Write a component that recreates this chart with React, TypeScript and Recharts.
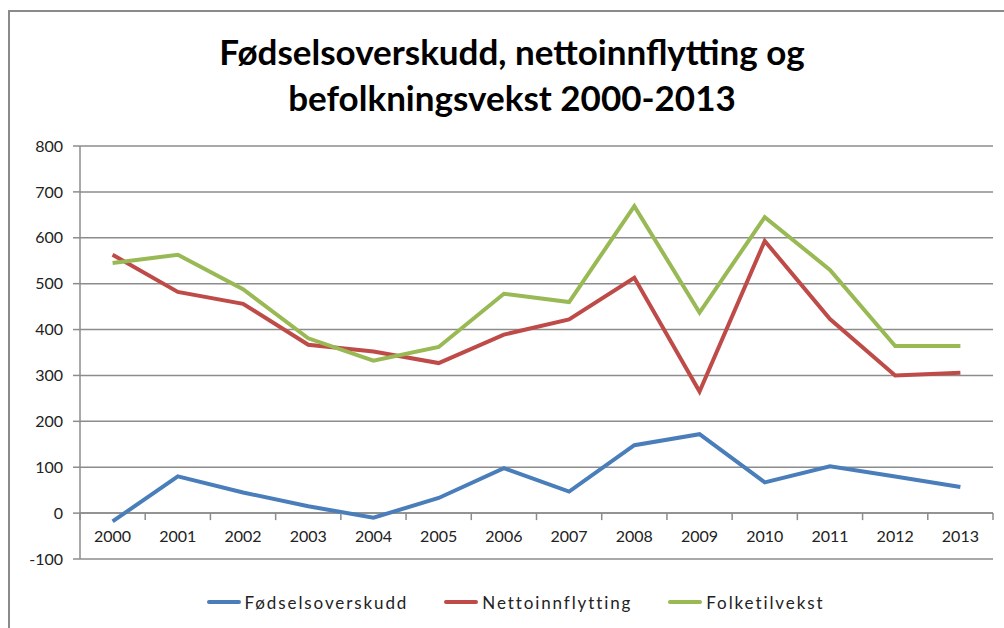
import React from 'react';
import { LineChart, Line, XAxis, YAxis, CartesianGrid, Legend, ReferenceLine } from 'recharts';

// År og verdier lest av figuren
const years = ['2000', '2001', '2002', '2003', '2004', '2005', '2006', '2007', '2008', '2009', '2010', '2011', '2012', '2013'];
const fodselsoverskudd = [-18, 80, 45, 15, -10, 33, 98, 47, 148, 172, 67, 102, 80, 57];
const nettoinnflytting = [563, 482, 456, 367, 352, 327, 389, 422, 513, 265, 593, 423, 300, 306];
const folketilvekst = [545, 563, 488, 381, 332, 362, 478, 460, 669, 437, 645, 530, 364, 364];
const yTicks = [-100, 0, 100, 200, 300, 400, 500, 600, 700, 800];

const data = years.map((year, i) => ({
  year,
  fodsel: fodselsoverskudd[i],
  netto: nettoinnflytting[i],
  folke: folketilvekst[i],
}));

const W = 1004;
const H = 628;
const PLOT_TOP = 146;
const PLOT_LEFT = 80;
const PLOT_RIGHT = 993;
const PLOT_BOTTOM = 559;
const PLOT_W = PLOT_RIGHT - PLOT_LEFT;
const PLOT_H = PLOT_BOTTOM - PLOT_TOP;
const ZERO_Y = PLOT_TOP + (PLOT_H * 800) / 900;
const BAND = PLOT_W / years.length;
const FONT = 'Lato, "Liberation Sans", sans-serif';
const GRID = '#8c8c8c';

const LEGEND_H = 20;
const X_AXIS_H = 33;
const MARGIN_BOTTOM = H - PLOT_BOTTOM - LEGEND_H - X_AXIS_H;

// x-akse som krysser ved 0: etiketter og skillestreker tegnes ved nullinjen
const YearTick = (props: any) => {
  const { x, payload, index } = props;
  return (
    <g>
      <line x1={x - BAND / 2} x2={x - BAND / 2} y1={ZERO_Y} y2={ZERO_Y + 7} stroke={GRID} strokeWidth={1.5} />
      {index === years.length - 1 && (
        <line x1={x + BAND / 2} x2={x + BAND / 2} y1={ZERO_Y} y2={ZERO_Y + 7} stroke={GRID} strokeWidth={1.5} />
      )}
      <text x={x} y={ZERO_Y + 29} textAnchor="middle" fontFamily={FONT} fontSize={16} fill="#222">
        {payload.value}
      </text>
    </g>
  );
};

const legendItems = [
  { label: 'Fødselsoverskudd', color: '#4a7ebb' },
  { label: 'Nettoinnflytting', color: '#be4b48' },
  { label: 'Folketilvekst', color: '#98b954' },
];

const ChartLegend = () => (
  <div style={{ display: 'flex', justifyContent: 'center', alignItems: 'center', height: LEGEND_H, fontFamily: FONT, fontSize: 17, letterSpacing: 1.9, color: '#222', paddingLeft: 74 }}>
    {legendItems.map((item) => (
      <div key={item.label} style={{ display: 'flex', alignItems: 'center', marginRight: 36 }}>
        <div style={{ width: 34, height: 4, background: item.color, borderRadius: 2, marginRight: 4 }} />
        <span>{item.label}</span>
      </div>
    ))}
  </div>
);

const App: React.FC = () => {
  return (
    <div style={{ position: 'absolute', left: 0, top: 0, width: W, height: H, background: '#fff', overflow: 'hidden' }}>
      <div style={{ position: 'absolute', left: 8, top: 10, width: W, height: H, borderTop: '2px solid #8a8a8a', borderLeft: '2px solid #8a8a8a' }} />
      <div style={{ position: 'absolute', left: 10, top: 28, width: W, textAlign: 'center', fontFamily: FONT, fontWeight: 700, fontSize: 35, lineHeight: '46px', color: '#000' }}>
        Fødselsoverskudd, nettoinnflytting og
        <br />
        befolkningsvekst 2000-2013
      </div>
      <div style={{ position: 'absolute', left: 0, top: 0 }}>
        <LineChart width={W} height={H} data={data} margin={{ top: PLOT_TOP, right: W - PLOT_RIGHT, left: 0, bottom: MARGIN_BOTTOM }}>
          <CartesianGrid vertical={false} stroke={GRID} strokeWidth={1.5} />
          <XAxis
            dataKey="year"
            height={X_AXIS_H}
            axisLine={false}
            tickLine={false}
            tickSize={0}
            tickMargin={0}
            interval={0}
            padding={{ left: BAND / 2, right: BAND / 2 }}
            tick={<YearTick />}
          />
          <YAxis
            width={PLOT_LEFT}
            domain={[-100, 800]}
            ticks={yTicks}
            interval={0}
            stroke={GRID}
            strokeWidth={1.5}
            tickSize={7}
            tickMargin={10}
            tick={{ fontFamily: FONT, fontSize: 16, fill: '#222' }}
          />
          <ReferenceLine y={0} stroke={GRID} strokeWidth={1.5} />
          <Legend verticalAlign="bottom" height={LEGEND_H} content={<ChartLegend />} />
          <Line type="linear" dataKey="fodsel" name="Fødselsoverskudd" stroke="#4a7ebb" strokeWidth={4} dot={false} isAnimationActive={false} />
          <Line type="linear" dataKey="netto" name="Nettoinnflytting" stroke="#be4b48" strokeWidth={4} dot={false} isAnimationActive={false} />
          <Line type="linear" dataKey="folke" name="Folketilvekst" stroke="#98b954" strokeWidth={4} dot={false} isAnimationActive={false} />
        </LineChart>
      </div>
    </div>
  );
};

export default App;
